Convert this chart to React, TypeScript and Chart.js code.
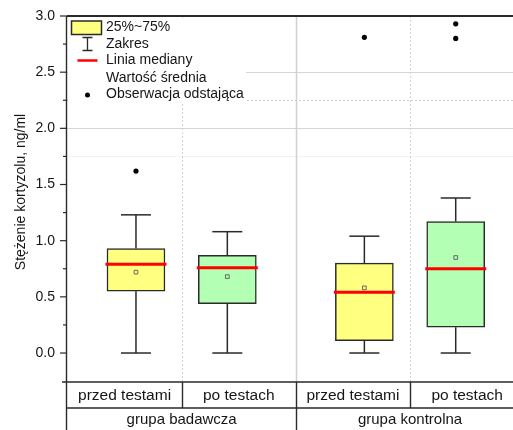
import { useEffect, useRef } from 'react';
import { Chart, registerables } from 'chart.js';

Chart.register(...registerables);

// Box-plot summary values for cortisol concentration (ng/ml)
const CATEGORIES = ['przed testami', 'po testach', 'przed testami', 'po testach'];
const GROUPS = ['grupa badawcza', 'grupa kontrolna'];
const X_POS = [0, 1, 2.5, 3.5];
const WHISKER_MIN = [0, 0, 0, 0];
const Q1 = [0.55, 0.44, 0.11, 0.23];
const MEDIAN = [0.79, 0.76, 0.54, 0.75];
const Q3 = [0.93, 0.87, 0.8, 1.17];
const WHISKER_MAX = [1.23, 1.08, 1.04, 1.38];
const MEAN = [0.72, 0.68, 0.58, 0.85];
const OUTLIERS: number[][] = [[1.62], [], [2.81], [2.8, 2.93]];
const Y_TICKS = [0, 0.5, 1, 1.5, 2, 2.5, 3];
const Y_TITLE = 'Stężenie kortyzolu, ng/ml';
const LEGEND_LABELS = ['25%~75%', 'Zakres', 'Linia mediany', 'Wartość średnia', 'Obserwacja odstająca'];

const FONT = "Arial, 'Liberation Sans', sans-serif";
const BOX_FILL = ['#FFFF80', '#B3FFB3', '#FFFF80', '#B3FFB3'];
const INK = '#2a2a2a';

// cell borders of the category table, halfway between neighbouring boxes
const HALF_OUTER = 0.75;
const CELL_EDGES = [
  X_POS[0] - HALF_OUTER,
  ...X_POS.slice(1).map((x, i) => (x + X_POS[i]) / 2),
  X_POS[X_POS.length - 1] + HALF_OUTER,
];
const GROUP_EDGES = [CELL_EDGES[0], CELL_EDGES[2], CELL_EDGES[4]];

const decorPlugin = {
  id: 'decor',
  beforeDatasetsDraw(chart: any) {
    const { ctx, chartArea: a, scales } = chart;
    const x = scales.x;
    const y = scales.y;
    ctx.save();
    // horizontal grid in the upper part
    const hLine = (v: number, color: string, dash: number[]) => {
      const py = Math.round(y.getPixelForValue(v)) + 0.5;
      ctx.strokeStyle = color;
      ctx.lineWidth = 1;
      ctx.setLineDash(dash);
      ctx.beginPath();
      ctx.moveTo(a.left, py);
      ctx.lineTo(a.right, py);
      ctx.stroke();
    };
    hLine(2.5, '#d6d6d6', []);
    hLine(2.0, '#d6d6d6', []);
    hLine(2.25, '#d0d0d0', [2, 2]);
    hLine(1.75, '#f2f2f2', []);
    // vertical separators
    const vLine = (v: number, color: string, dash: number[], w: number) => {
      const px = Math.round(x.getPixelForValue(v)) + 0.5;
      ctx.strokeStyle = color;
      ctx.lineWidth = w;
      ctx.setLineDash(dash);
      ctx.beginPath();
      ctx.moveTo(px, a.top);
      ctx.lineTo(px, a.bottom);
      ctx.stroke();
    };
    vLine(CELL_EDGES[1], '#d4d4d4', [2, 2], 1);
    vLine(CELL_EDGES[3], '#d4d4d4', [2, 2], 1);
    vLine(CELL_EDGES[2], '#d0d0d0', [], 1.5);
    ctx.restore();
  },
  afterDraw(chart: any) {
    const { ctx, chartArea: a, scales, width, height } = chart;
    const x = scales.x;
    const y = scales.y;
    ctx.save();
    ctx.setLineDash([]);
    ctx.strokeStyle = INK;

    // legend in the upper-left corner of the plot
    const lx = a.left + 1;
    const ly = a.top + 1;
    ctx.fillStyle = '#ffffff';
    ctx.fillRect(lx, ly + 1, 178, 86);
    const rows = [10.5, 27, 43.5, 61, 77.5].map((d) => ly + d);
    ctx.fillStyle = BOX_FILL[0];
    ctx.fillRect(lx + 3.5, ly + 4, 30, 13.5);
    ctx.lineWidth = 1.5;
    ctx.strokeStyle = INK;
    ctx.strokeRect(lx + 3.5, ly + 4, 30, 13.5);
    const wx = lx + 19.5;
    ctx.lineWidth = 1.3;
    ctx.beginPath();
    ctx.moveTo(wx, rows[1] - 6.5);
    ctx.lineTo(wx, rows[1] + 6.5);
    ctx.moveTo(wx - 5, rows[1] - 6.5);
    ctx.lineTo(wx + 5, rows[1] - 6.5);
    ctx.moveTo(wx - 5, rows[1] + 6.5);
    ctx.lineTo(wx + 5, rows[1] + 6.5);
    ctx.stroke();
    ctx.strokeStyle = '#ff0000';
    ctx.lineWidth = 2.5;
    ctx.beginPath();
    ctx.moveTo(wx - 10, rows[2]);
    ctx.lineTo(wx + 10, rows[2]);
    ctx.stroke();
    ctx.fillStyle = '#000';
    ctx.beginPath();
    ctx.arc(wx, rows[4] + 0.5, 2.5, 0, Math.PI * 2);
    ctx.fill();
    ctx.fillStyle = '#151515';
    ctx.font = `14px ${FONT}`;
    ctx.textAlign = 'left';
    ctx.textBaseline = 'middle';
    LEGEND_LABELS.forEach((t, i) => ctx.fillText(t, lx + 38, rows[i]));

    ctx.strokeStyle = INK;
    // top frame line
    ctx.lineWidth = 2;
    ctx.beginPath();
    ctx.moveTo(a.left, a.top);
    ctx.lineTo(width, a.top);
    ctx.stroke();

    // y axis line, running down through the category table
    ctx.lineWidth = 1.4;
    ctx.beginPath();
    ctx.moveTo(a.left - 0.5, a.top);
    ctx.lineTo(a.left - 0.5, height);
    ctx.stroke();

    // y axis ticks
    ctx.lineWidth = 1.2;
    Y_TICKS.forEach((v, i) => {
      const py = y.getPixelForValue(v);
      ctx.beginPath();
      ctx.moveTo(a.left - 7, py);
      ctx.lineTo(a.left, py);
      ctx.stroke();
      if (i < Y_TICKS.length - 1) {
        const pm = y.getPixelForValue((v + Y_TICKS[i + 1]) / 2);
        ctx.beginPath();
        ctx.moveTo(a.left - 4, pm);
        ctx.lineTo(a.left, pm);
        ctx.stroke();
      }
    });

    // category table below the plot
    const row1 = a.bottom;
    const row2 = a.bottom + 26;
    ctx.lineWidth = 1.4;
    ctx.beginPath();
    ctx.moveTo(a.left - 5, row1);
    ctx.lineTo(width, row1);
    ctx.moveTo(a.left, row2);
    ctx.lineTo(width, row2);
    ctx.stroke();
    CELL_EDGES.slice(1, -1).forEach((e) => {
      const px = Math.round(x.getPixelForValue(e)) + 0.5;
      ctx.beginPath();
      ctx.moveTo(px, row1);
      ctx.lineTo(px, row2);
      ctx.stroke();
    });
    GROUP_EDGES.slice(1, -1).forEach((e) => {
      const px = Math.round(x.getPixelForValue(e)) + 0.5;
      ctx.beginPath();
      ctx.moveTo(px, row2);
      ctx.lineTo(px, height);
      ctx.stroke();
    });
    ctx.fillStyle = '#151515';
    ctx.font = `15.5px ${FONT}`;
    ctx.textAlign = 'center';
    ctx.textBaseline = 'middle';
    CATEGORIES.forEach((label, i) => {
      const cx = (x.getPixelForValue(CELL_EDGES[i]) + x.getPixelForValue(CELL_EDGES[i + 1])) / 2;
      ctx.fillText(label, cx, row1 + 14);
    });
    ctx.font = `15px ${FONT}`;
    GROUPS.forEach((label, i) => {
      const cx = (x.getPixelForValue(GROUP_EDGES[i]) + x.getPixelForValue(GROUP_EDGES[i + 1])) / 2;
      ctx.fillText(label, cx, row2 + 12);
    });

    // y axis title
    ctx.save();
    ctx.translate(21, 192);
    ctx.rotate(-Math.PI / 2);
    ctx.font = `14px ${FONT}`;
    ctx.fillText(Y_TITLE, 0, 0);
    ctx.restore();

    ctx.restore();
  },
};

export default function App() {
  const canvasRef = useRef<HTMLCanvasElement | null>(null);

  useEffect(() => {
    if (!canvasRef.current) return;

    const stems: { x: number; y: number | null }[] = [];
    X_POS.forEach((xv, i) => {
      stems.push({ x: xv, y: WHISKER_MIN[i] }, { x: xv, y: Q1[i] }, { x: xv, y: null });
      stems.push({ x: xv, y: Q3[i] }, { x: xv, y: WHISKER_MAX[i] }, { x: xv, y: null });
    });
    const caps = X_POS.flatMap((xv, i) => [
      { x: xv, y: WHISKER_MIN[i] },
      { x: xv, y: WHISKER_MAX[i] },
    ]);
    const outliers = X_POS.flatMap((xv, i) => OUTLIERS[i].map((v) => ({ x: xv, y: v })));

    const chart = new Chart(canvasRef.current, {
      type: 'bar',
      data: {
        datasets: [
          {
            type: 'line',
            data: stems,
            borderColor: INK,
            borderWidth: 1.5,
            pointRadius: 0,
            spanGaps: false,
            order: 5,
          } as any,
          {
            type: 'bar',
            data: X_POS.map((xv, i) => ({ x: xv, y: [Q1[i], Q3[i]] })),
            backgroundColor: BOX_FILL,
            borderColor: INK,
            borderWidth: 1.5,
            borderSkipped: false,
            barThickness: 58,
            order: 4,
          } as any,
          {
            type: 'scatter',
            data: caps,
            pointStyle: 'line',
            pointRadius: 15,
            borderColor: INK,
            borderWidth: 1.5,
            order: 3,
          } as any,
          {
            type: 'scatter',
            data: X_POS.map((xv, i) => ({ x: xv, y: MEAN[i] })),
            pointStyle: 'rect',
            pointRadius: 2.6,
            backgroundColor: 'rgba(0,0,0,0)',
            borderColor: '#666',
            borderWidth: 1,
            order: 2,
          } as any,
          {
            type: 'scatter',
            data: X_POS.map((xv, i) => ({ x: xv, y: MEDIAN[i] })),
            pointStyle: 'line',
            pointRadius: 30.5,
            borderColor: '#ff0000',
            borderWidth: 3,
            order: 1,
          } as any,
          {
            type: 'scatter',
            data: outliers,
            pointStyle: 'circle',
            pointRadius: 2.6,
            backgroundColor: '#000',
            borderColor: '#000',
            borderWidth: 0,
            order: 0,
          } as any,
        ],
      },
      options: {
        responsive: false,
        animation: false,
        events: [],
        layout: { autoPadding: false, padding: { top: 16, bottom: 48, left: 0, right: 0 } },
        plugins: {
          legend: { display: false },
          tooltip: { enabled: false },
        },
        scales: {
          x: {
            type: 'linear',
            display: false,
            offset: false,
            min: -0.755,
            max: 4.127,
          },
          y: {
            type: 'linear',
            min: -0.258,
            max: 3,
            afterFit: (axis: any) => {
              axis.width = 67;
              axis.paddingTop = 0;
              axis.paddingBottom = 0;
            },
            afterBuildTicks: (axis: any) => {
              axis.ticks = Y_TICKS.map((v) => ({ value: v }));
            },
            grid: { display: false, drawTicks: false },
            border: { display: false },
            ticks: {
              padding: 12,
              color: '#151515',
              font: { size: 14, family: FONT },
              callback: (v: any) => Number(v).toFixed(1),
            },
          },
        },
      } as any,
      plugins: [decorPlugin],
    });

    return () => chart.destroy();
  }, []);

  return (
    <div style={{ position: 'absolute', left: 0, top: 0, width: 513, height: 430 }}>
      <canvas ref={canvasRef} width={513} height={430} />
    </div>
  );
}
